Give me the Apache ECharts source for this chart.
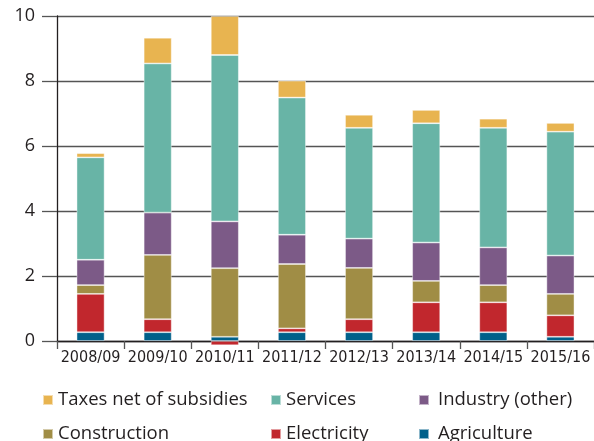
<!DOCTYPE html>
<html>
<head>
<meta charset="utf-8">
<script src="https://cdn.jsdelivr.net/npm/echarts@6/dist/echarts.min.js"></script>
<style>
  html, body { margin: 0; padding: 0; background: #fff; }
  #chart { width: 594px; height: 441px; }
</style>
</head>
<body>
<div id="chart"></div>
<script>
// Fiscal years on the category axis
const years = ['2008/09', '2009/10', '2010/11', '2011/12', '2012/13', '2013/14', '2014/15', '2015/16'];

// Contributions by sector (stacked from the bottom up)
const agriculture  = [0.27, 0.27, 0.13, 0.27, 0.27, 0.27, 0.27, 0.13];
const electricity  = [1.18, 0.40, -0.13, 0.12, 0.40, 0.92, 0.92, 0.66];
const construction = [0.27, 1.98, 2.11, 1.98, 1.58, 0.66, 0.53, 0.66];
const industry     = [0.78, 1.30, 1.44, 0.90, 0.90, 1.18, 1.16, 1.18];
const services     = [3.15, 4.59, 5.12, 4.22, 3.41, 3.67, 3.68, 3.81];
const taxes        = [0.13, 0.79, 1.20, 0.52, 0.40, 0.41, 0.28, 0.27];

// Value axis settings
const yMin = 0;
const yMax = 10;
const yStep = 2;

const colors = {
  'Agriculture': '#00608a',
  'Electricity': '#c1272d',
  'Construction': '#a08d45',
  'Industry (other)': '#7c5a87',
  'Services': '#68b4a6',
  'Taxes net of subsidies': '#e8b450'
};

const seriesDefs = [
  ['Agriculture', agriculture],
  ['Electricity', electricity],
  ['Construction', construction],
  ['Industry (other)', industry],
  ['Services', services],
  ['Taxes net of subsidies', taxes]
];

const textColor = '#231f20';

const chart = echarts.init(document.getElementById('chart'), null, { renderer: 'canvas' });

// One legend entry per component so each sits in its own grid cell
function legendItem(name, left, top, textGap) {
  return {
    left: left,
    top: top,
    itemWidth: 10,
    itemHeight: 10,
    icon: 'rect',
    selectedMode: false,
    data: [name],
    textStyle: {
      fontFamily: 'Open Sans',
      fontSize: 18.5,
      lineHeight: 20,
      color: textColor,
      padding: [0, 0, 0, textGap]
    }
  };
}

chart.setOption({
  animation: false,
  color: seriesDefs.map(d => colors[d[0]]),
  grid: { left: 57, right: -5, top: 16, bottom: 100, containLabel: false },
  legend: [
    legendItem('Taxes net of subsidies', 37, 385, 0),
    legendItem('Services', 265, 385, 0),
    legendItem('Industry (other)', 413, 385, 4),
    legendItem('Construction', 37, 419, 0),
    legendItem('Electricity', 265, 419, 0),
    legendItem('Agriculture', 413, 419, 4)
  ],
  xAxis: {
    type: 'category',
    data: years,
    axisLine: { show: true, lineStyle: { color: '#231f20', width: 1.3 } },
    axisTick: { show: true, length: 8, lineStyle: { color: '#555', width: 1.3 } },
    axisLabel: {
      interval: 0,
      margin: 9,
      fontFamily: '"DejaVu Sans Condensed", "Roboto", sans-serif',
      fontSize: 16,
      color: textColor
    }
  },
  yAxis: {
    type: 'value',
    min: yMin,
    max: yMax,
    interval: yStep,
    axisLine: { show: true, lineStyle: { color: '#231f20', width: 1.3 } },
    axisTick: { show: true, length: 15, lineStyle: { color: '#555', width: 1.3 } },
    splitLine: { show: true, lineStyle: { color: '#555', width: 1.3 } },
    axisLabel: {
      margin: 22,
      fontFamily: 'Open Sans',
      fontSize: 18,
      color: textColor
    }
  },
  series: seriesDefs.map(([name, values]) => ({
    name: name,
    type: 'bar',
    stack: 'total',
    barWidth: 28,
    clip: false,
    data: values,
    itemStyle: {
      borderColor: 'rgba(255,255,255,0.55)',
      borderWidth: 0.8
    }
  }))
});
</script>
</body>
</html>
